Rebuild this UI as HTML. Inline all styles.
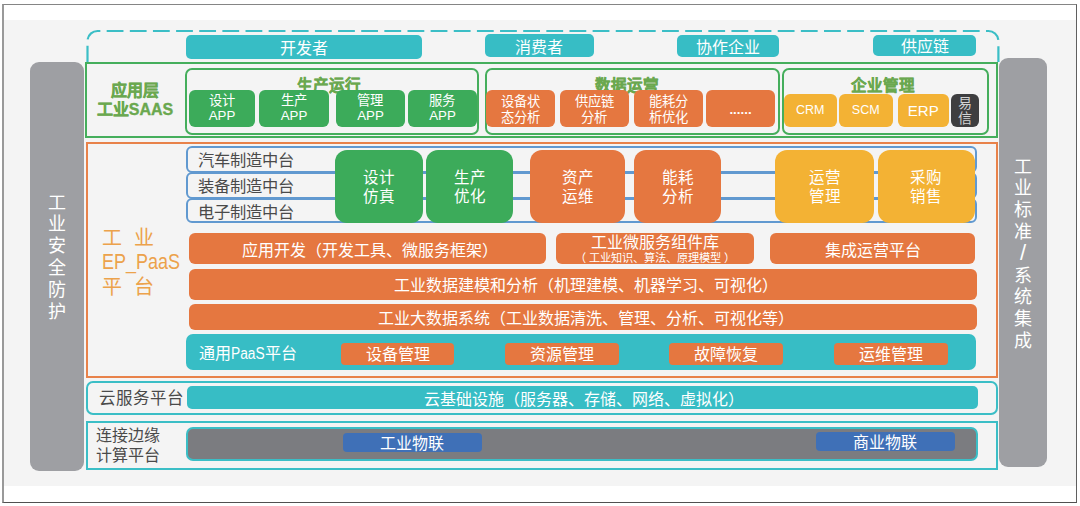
<!DOCTYPE html>
<html lang="zh-CN">
<head>
<meta charset="utf-8">
<style>
html,body{margin:0;padding:0;background:#fff;}
body{width:1080px;height:506px;position:relative;overflow:hidden;font-family:"Liberation Sans",sans-serif;}
.a{position:absolute;box-sizing:border-box;}
.c{display:flex;align-items:center;justify-content:center;text-align:center;white-space:nowrap;}
.frame{left:2px;top:4px;width:1075px;height:499px;border-style:solid;border-width:1px 1px 1px 2px;border-color:#858585 #5f5f5f #505050 #999;background:#fff;}
.bg{left:4px;top:20px;width:1072px;height:466px;background:#f4f4f4;}
.side{background:#9e9fa3;border-radius:9px;color:#fff;font-size:18px;line-height:21.8px;}
.cy{background:#37bdc5;color:#fff;font-size:16px;border-radius:5px;}
.gbox{border:2px solid #45ae5c;}
.ibox{border:2px solid #45ae5c;border-radius:7px;}
.ttl{color:#6aa84f;font-weight:bold;font-size:15.5px;-webkit-text-stroke:0.35px #6aa84f;}
.btn{color:#fff;font-size:13.3px;line-height:15px;border-radius:6px;top:90px;height:36.5px;}
.gr{background:#3cab5a;}
.or{background:#e57740;}
.ye{background:#f3b234;}
.row{border:2px solid #6199d0;border-radius:6px;height:26px;left:186px;width:791px;color:#4a4a4a;font-size:16.3px;padding-left:10px;line-height:22px;}
.big{top:149.5px;height:73.5px;border-radius:12px;color:#fff;font-size:15.5px;line-height:19px;padding-top:1.5px;}
.bar{background:#e57740;color:#fff;font-size:16px;border-radius:6px;}
.pill{background:#e57740;color:#fff;font-size:16px;border-radius:4px;top:342.5px;height:22px;padding-bottom:1px;}
</style>
</head>
<body>
<div class="a frame"></div>
<div class="a bg"></div>

<!-- side bars -->
<div class="a side" style="left:30px;top:62px;width:54px;height:409px;"></div><div class="a" style="left:30px;top:192.6px;width:54px;text-align:center;color:#fff;font-size:18px;line-height:21.8px;">工<br>业<br>安<br>全<br>防<br>护</div>
<div class="a side" style="left:999px;top:58px;width:48px;height:409px;"></div><div class="a" style="left:999px;top:156.6px;width:48px;text-align:center;color:#fff;font-size:18px;line-height:21.8px;">工<br>业<br>标<br>准<br><span style="font-size:22px;line-height:1px;">/</span><br>系<br>统<br>集<br>成</div>

<!-- dashed top -->
<svg class="a" style="left:0;top:0" width="1080" height="80">
<path d="M87.5 62 V41 A10 10 0 0 1 97.5 31 H988.4 A10 10 0 0 1 998.4 41 V62" fill="none" stroke="#3bbec6" stroke-width="2.2" stroke-dasharray="16.8 6.34" stroke-dashoffset="0.5"/>
</svg>
<div class="a cy c" style="left:186px;top:35px;width:236px;height:24px;">开发者</div>
<div class="a cy c" style="left:485px;top:34px;width:108.5px;height:23px;">消费者</div>
<div class="a cy c" style="left:676.7px;top:35px;width:102.5px;height:22px;">协作企业</div>
<div class="a cy c" style="left:873px;top:34.5px;width:103px;height:21.5px;">供应链</div>

<!-- SAAS layer -->
<div class="a gbox" style="left:85px;top:62px;width:913px;height:76px;"></div>
<div class="a c" style="left:90px;top:80px;width:90px;height:40px;color:#6aa84f;font-weight:bold;font-size:16px;line-height:19.5px;flex-direction:column;-webkit-text-stroke:0.35px #6aa84f;">应用层<br>工业SAAS</div>

<div class="a ibox" style="left:184.5px;top:68px;width:294px;height:67px;"></div>
<div class="a ibox" style="left:484.5px;top:68px;width:295px;height:67px;"></div>
<div class="a ibox" style="left:782px;top:68px;width:206.5px;height:66.5px;"></div>
<div class="a ttl c" style="left:182px;top:74px;width:294px;height:20px;">生产运行</div>
<div class="a ttl c" style="left:484.5px;top:74px;width:285px;height:20px;">数据运营</div>
<div class="a ttl c" style="left:782px;top:74px;width:201px;height:20px;">企业管理</div>

<div class="a btn gr c" style="left:189px;width:66px;">设计<br>APP</div>
<div class="a btn gr c" style="left:259px;width:70px;">生产<br>APP</div>
<div class="a btn gr c" style="left:336px;width:69px;">管理<br>APP</div>
<div class="a btn gr c" style="left:408px;width:69px;">服务<br>APP</div>
<div class="a btn or c" style="line-height:16px;padding-top:2.5px;left:486px;width:69px;">设备状<br>态分析</div>
<div class="a btn or c" style="line-height:16px;padding-top:2.5px;left:559.5px;width:69.5px;">供应链<br>分析</div>
<div class="a btn or c" style="line-height:16px;padding-top:2.5px;left:634px;width:69px;">能耗分<br>析优化</div>
<div class="a btn or c" style="left:706px;width:69px;font-weight:bold;padding-top:3px;">......</div>
<div class="a btn ye c" style="left:784px;width:52.5px;top:94px;height:33px;font-size:12.5px;">CRM</div>
<div class="a btn ye c" style="left:838.5px;width:54.5px;top:94px;height:33px;font-size:12.5px;">SCM</div>
<div class="a btn ye c" style="left:898px;width:50.5px;top:94px;height:33px;font-size:15px;">ERP</div>
<div class="a btn c" style="left:950.5px;width:28.5px;top:94px;height:33px;background:#3e3e40;font-size:14px;color:#d4d4d4;">易<br>信</div>

<!-- PaaS layer -->
<div class="a" style="left:86px;top:142px;width:912px;height:235.5px;border:2px solid #e8824a;"></div>
<div class="a" style="left:101.5px;top:226.2px;color:#eca24b;font-size:20px;line-height:24px;">工</div>
<div class="a" style="left:133.5px;top:226.2px;color:#eca24b;font-size:20px;line-height:24px;">业</div>
<div class="a" style="left:102px;top:251px;color:#eca24b;font-size:18px;line-height:24px;transform:scaleY(1.22);transform-origin:0 18px;white-space:nowrap;">EP_PaaS</div>
<div class="a" style="left:101.5px;top:274.6px;color:#eca24b;font-size:20px;line-height:24px;">平</div>
<div class="a" style="left:134px;top:274.6px;color:#eca24b;font-size:20px;line-height:24px;">台</div>

<div class="a row" style="top:146px;height:27px;padding-top:1px;">汽车制造中台</div>
<div class="a row" style="top:172px;height:27px;padding-top:1px;">装备制造中台</div>
<div class="a row" style="top:198px;height:25px;padding-top:1px;">电子制造中台</div>

<div class="a big gr c" style="left:334.5px;width:88.5px;">设计<br>仿真</div>
<div class="a big gr c" style="left:426px;width:87px;">生产<br>优化</div>
<div class="a big or c" style="left:530px;width:95px;">资产<br>运维</div>
<div class="a big or c" style="left:634px;width:87px;">能耗<br>分析</div>
<div class="a big ye c" style="left:775px;width:99px;">运营<br>管理</div>
<div class="a big ye c" style="left:877.5px;width:97.5px;">采购<br>销售</div>

<div class="a bar c" style="padding-left:5px;left:189px;top:233px;width:356.5px;height:31px;">应用开发（开发工具、微服务框架）</div>
<div class="a bar" style="left:556px;top:233px;width:198px;height:31px;"></div>
<div class="a" style="left:556px;top:233.5px;width:198px;text-align:center;color:#fff;font-size:16px;line-height:18px;">工业微服务组件库</div>
<div class="a" style="left:556px;top:252px;width:198px;text-align:center;color:#fff;font-size:11.2px;line-height:13px;white-space:nowrap;">（ 工业知识、算法、原理模型 ）</div>
<div class="a bar c" style="left:770px;top:233px;width:205px;height:31px;">集成运营平台</div>
<div class="a bar c" style="padding-left:5px;left:189px;top:268.5px;width:788px;height:31.5px;">工业数据建模和分析（机理建模、机器学习、可视化）</div>
<div class="a bar c" style="padding-left:5px;left:189px;top:304px;width:788px;height:25.5px;">工业大数据系统（工业数据清洗、管理、分析、可视化等）</div>

<div class="a" style="left:186px;top:334px;width:789.5px;height:36px;background:#37bdc5;border-radius:7px;"></div>
<div class="a" style="left:199px;top:342.5px;color:#fff;font-size:16px;line-height:22px;white-space:nowrap;">通用<span style="display:inline-block;transform:scaleX(0.86);transform-origin:0 0;margin-right:-5.5px;">PaaS</span>平台</div>
<div class="a pill c" style="left:341px;width:113px;">设备管理</div>
<div class="a pill c" style="left:505px;width:114px;">资源管理</div>
<div class="a pill c" style="left:669px;width:114px;">故障恢复</div>
<div class="a pill c" style="left:834px;width:113.5px;">运维管理</div>

<!-- cloud -->
<div class="a" style="left:86px;top:381px;width:912px;height:33.5px;border:2px solid #3bbec6;border-radius:7px;"></div>
<div class="a" style="left:99px;top:387px;color:#4a4a4a;font-size:16.5px;line-height:22px;white-space:nowrap;">云服务平台</div>
<div class="a cy c" style="padding-left:3.5px;left:187px;top:386px;width:790.5px;height:23px;">云基础设施（服务器、存储、网络、虚拟化）</div>

<!-- edge -->
<div class="a" style="left:85.5px;top:421px;width:912.5px;height:48.5px;border:2px solid #3bbec6;"></div>
<div class="a" style="left:96px;top:426px;color:#4a4a4a;font-size:16px;line-height:20px;white-space:nowrap;">连接边缘<br>计算平台</div>
<div class="a" style="left:185.5px;top:427px;width:792.5px;height:34px;background:#7b7c80;border:2.5px solid #3bbec6;border-radius:7px;"></div>
<div class="a c" style="left:342.5px;top:432.5px;width:139.5px;height:19.5px;background:#3f70b7;color:#fff;font-size:16px;border-radius:4px;padding-bottom:1.5px;">工业物联</div>
<div class="a c" style="left:816px;top:431.5px;width:138.5px;height:19.5px;background:#3f70b7;color:#fff;font-size:16px;border-radius:4px;padding-bottom:1.5px;">商业物联</div>
</body>
</html>
